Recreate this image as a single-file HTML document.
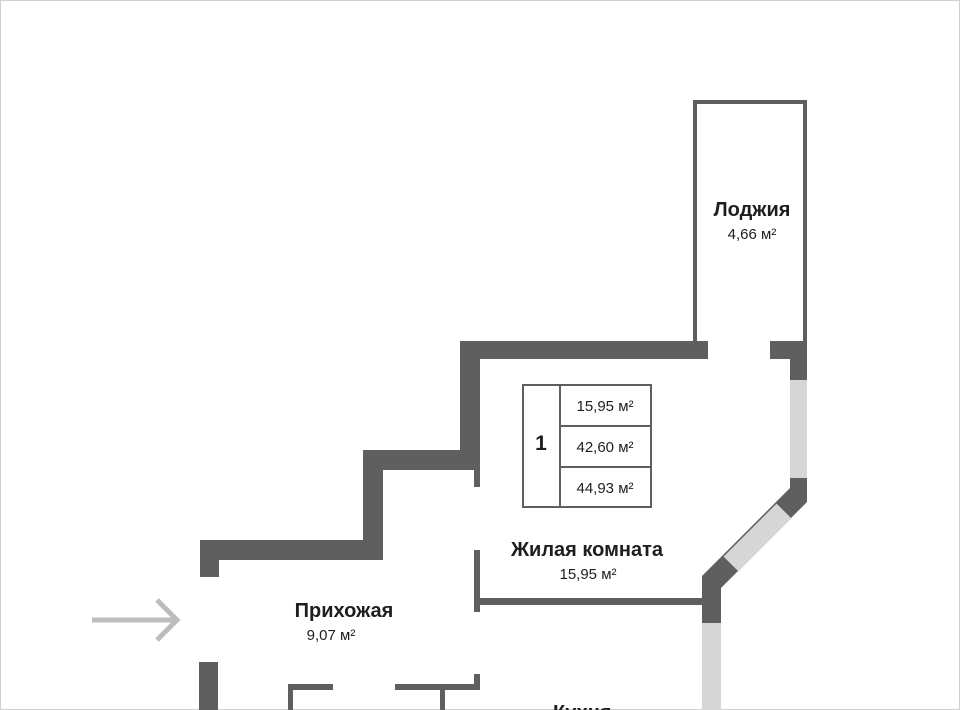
<!DOCTYPE html>
<html><head><meta charset="utf-8"><style>
html,body{margin:0;padding:0;background:#fff}
svg{display:block}
text{font-family:"Liberation Sans",sans-serif;fill:#1e1e1e}
</style></head><body>
<svg width="960" height="710" viewBox="0 0 960 710" xmlns="http://www.w3.org/2000/svg">
<rect x="0.5" y="0.5" width="959" height="709" fill="#fff" stroke="#cfcfcf"/>
<g fill="#5f5f5f">
<rect x="693" y="100" width="114" height="4"/>
<rect x="693" y="100" width="4" height="243"/>
<rect x="803" y="100" width="4" height="243"/>
<rect x="460" y="341" width="248" height="18"/>
<rect x="460" y="341" width="20" height="129"/>
<rect x="363" y="450" width="117" height="20"/>
<rect x="474" y="450" width="6" height="37"/>
<rect x="363" y="450" width="20" height="110"/>
<rect x="200" y="540" width="183" height="20"/>
<rect x="200" y="540" width="19" height="37"/>
<rect x="199" y="662" width="19" height="48"/>
<rect x="770" y="341" width="37" height="18"/>
<rect x="790" y="341" width="17" height="39"/>
<polygon points="790,478 807,478 807,502 721,588 721,623 702,623 702,576 790,488"/>
<rect x="474" y="550" width="6" height="62"/>
<rect x="480" y="598" width="222" height="7"/>
<rect x="288" y="684" width="45" height="6"/>
<rect x="288" y="684" width="5" height="26"/>
<rect x="395" y="684" width="85" height="6"/>
<rect x="440" y="684" width="5" height="26"/>
<rect x="474" y="674" width="6" height="16"/>
</g>
<g fill="#d6d6d6">
<rect x="790" y="380" width="17" height="98"/>
<rect x="702" y="623" width="19" height="87"/>
</g>
<line x1="784" y1="511" x2="731" y2="564" stroke="#d6d6d6" stroke-width="21"/>
<g fill="none" stroke="#5f5f5f" stroke-width="2">
<rect x="523" y="385" width="128" height="122"/>
<line x1="560" y1="385" x2="560" y2="507"/>
<line x1="560" y1="426" x2="651" y2="426"/>
<line x1="560" y1="467" x2="651" y2="467"/>
</g>
<text x="541" y="450" font-size="21" font-weight="bold" text-anchor="middle">1</text>
<text x="605" y="411" font-size="15" text-anchor="middle">15,95 м²</text>
<text x="605" y="452" font-size="15" text-anchor="middle">42,60 м²</text>
<text x="605" y="493" font-size="15" text-anchor="middle">44,93 м²</text>
<text x="752" y="216" font-size="20" font-weight="bold" text-anchor="middle">Лоджия</text>
<text x="752" y="239" font-size="15" text-anchor="middle">4,66 м²</text>
<text x="587" y="556" font-size="20" font-weight="bold" text-anchor="middle">Жилая комната</text>
<text x="588" y="579" font-size="15" text-anchor="middle">15,95 м²</text>
<text x="344" y="617" font-size="20" font-weight="bold" text-anchor="middle">Прихожая</text>
<text x="331" y="640" font-size="15" text-anchor="middle">9,07 м²</text>
<text x="553" y="719" font-size="20" font-weight="bold">Кухня</text>
<g stroke="#bdbdbd" stroke-width="5" fill="none">
<line x1="92" y1="620" x2="176" y2="620"/>
<polyline points="157,600 177,620 157,640"/>
</g>
</svg>
</body></html>
